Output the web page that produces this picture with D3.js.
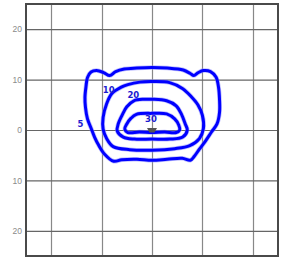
<!DOCTYPE html>
<html>
<head>
<meta charset="utf-8">
<script src="https://cdn.jsdelivr.net/npm/d3@7"></script>
<style>
  body { margin: 0; background: #fff; }
  svg { display: block; }
</style>
</head>
<body>
<svg id="chart" width="285" height="258"></svg>
<script>
/*------------------- data -------------------*/
// contour rings, in chart units [x, y]
const ring5 = [[0,12.4],[3,12.3],[6.2,11.9],[7.6,11.2],[8.3,10.8],[9.2,11.4],[10.2,11.8],[11.6,11.6],
  [12.7,10.5],[13.2,8.5],[13.4,6],[13.4,3.5],[12.9,1.2],[11.8,-0.4],[10.6,-2.2],[9.4,-3.8],[8.4,-5.2],
  [7.6,-6.0],[6,-5.6],[3,-5.8],[0,-6.0],[-3,-5.8],[-6,-5.9],[-7.6,-6.2],[-9.4,-4.8],[-10.6,-3.0],
  [-11.4,-1.4],[-12.1,0.4],[-12.8,2.2],[-13.2,4.5],[-13.3,6.5],[-13.1,8.6],[-12.8,10.4],[-12.1,11.5],
  [-11,11.8],[-9.6,11.4],[-8.4,10.8],[-7.2,11.6],[-5.5,12.1],[-3,12.3]];
const ring10 = [[0,9.6],[3.5,9.4],[6.1,8.2],[7.8,6.6],[9.1,5.0],[10.0,2.9],[10.2,0.3],[9.4,-1.7],
  [7.5,-3.1],[4.5,-3.7],[0,-4.0],[-4.4,-3.9],[-7.7,-3.3],[-9.0,-1.7],[-9.7,0.2],[-9.7,2.5],
  [-9.0,5.2],[-8.0,7.2],[-6.1,8.5],[-4.8,9.0],[-2.4,9.5]];
const ring20 = [[0,6.1],[2.9,5.8],[4.8,4.8],[5.9,3.0],[6.6,1.2],[7.0,0.0],[6.1,-1.4],[3.5,-1.8],
  [0,-1.8],[-3.5,-1.8],[-5.7,-1.4],[-6.9,-0.2],[-6.7,1.2],[-5.9,3.0],[-5.0,4.6],[-3.6,5.8],[-1.5,6.1]];
const ring30 = [[0,3.3],[2.9,3.2],[4.5,2.2],[5.3,1.0],[5.5,0.0],[4.8,-0.5],[2.5,-0.4],[0,-0.5],
  [-2.5,-0.4],[-4.8,-0.5],[-5.4,0.2],[-5.0,1.2],[-4.2,2.3],[-3.1,3.1]];

const rings = [ring5, ring10, ring20, ring30];

// contour labels
const labelText = ["5", "10", "20", "30"];
const labelPos = [[-14.2, 1.1], [-8.6, 8.0], [-3.7, 7.0], [-0.2, 2.2]];

// grid / ticks
const gridTicks = [-20, -10, 0, 10, 20];
const domain = [-25, 25];

/*------------------- scales -------------------*/
const x = d3.scaleLinear().domain(domain).range([26, 278]);
const y = d3.scaleLinear().domain(domain).range([256, 4]);

const svg = d3.select("#chart");

// grid lines
svg.append("g")
    .selectAll("line.v")
    .data(gridTicks)
    .join("line")
    .attr("x1", d => Math.round(x(d)) + 0.5).attr("x2", d => Math.round(x(d)) + 0.5)
    .attr("y1", y(25)).attr("y2", y(-25))
    .attr("stroke", "#888").attr("stroke-width", 1.2);

// y axis: labels show absolute values, tick lines become horizontal grid
const yAxis = d3.axisLeft(y)
    .tickValues(gridTicks)
    .tickSize(-(x(25) - x(-25)))
    .tickPadding(4)
    .tickFormat(d => Math.abs(d));

const gy = svg.append("g")
    .attr("transform", `translate(${x(-25)},0)`)
    .call(yAxis);
gy.select(".domain").remove();
gy.selectAll(".tick line").attr("stroke", "#666").attr("stroke-width", 1.2);
gy.selectAll(".tick text")
    .attr("fill", "#8a8a8a")
    .style("font-family", "Liberation Sans, Arial, sans-serif")
    .style("font-size", "8.5px");

// border
svg.append("rect")
    .attr("x", x(-25)).attr("y", y(25))
    .attr("width", x(25) - x(-25)).attr("height", y(-25) - y(25))
    .attr("fill", "none").attr("stroke", "#4a4a4a").attr("stroke-width", 2);

/*------------------- contours -------------------*/
const line = d3.line()
    .x(d => x(d[0])).y(d => y(d[1]))
    .curve(d3.curveCatmullRomClosed.alpha(0.5));

// faint halo to mimic the fuzzy edges
svg.append("g").selectAll("path")
    .data(rings).join("path")
    .attr("d", line)
    .attr("fill", "none")
    .attr("stroke", "#8c8cff")
    .attr("stroke-width", 4.5)
    .attr("stroke-opacity", 0.55);

svg.append("g").selectAll("path")
    .data(rings).join("path")
    .attr("d", line)
    .attr("fill", "none")
    .attr("stroke", "#0000ff")
    .attr("stroke-width", 3)
    .attr("stroke-linejoin", "round");

// source marker at origin
const mk = [[-5, -2], [5, -2], [2.5, 2.5], [-2.5, 2.5]];
svg.append("polygon")
    .attr("points", mk.map(p => [x(0) + p[0], y(0) + p[1]].join(",")).join(" "))
    .attr("fill", "#555");

// contour labels
svg.append("g").selectAll("text")
    .data(labelText).join("text")
    .attr("x", (d, i) => x(labelPos[i][0]))
    .attr("y", (d, i) => y(labelPos[i][1]))
    .attr("text-anchor", "middle")
    .attr("dominant-baseline", "central")
    .attr("fill", "#1c1cd0")
    .style("font-family", "DejaVu Sans, sans-serif")
    .style("font-weight", "bold")
    .style("font-size", "8.5px")
    .text(d => d);
</script>
</body>
</html>
